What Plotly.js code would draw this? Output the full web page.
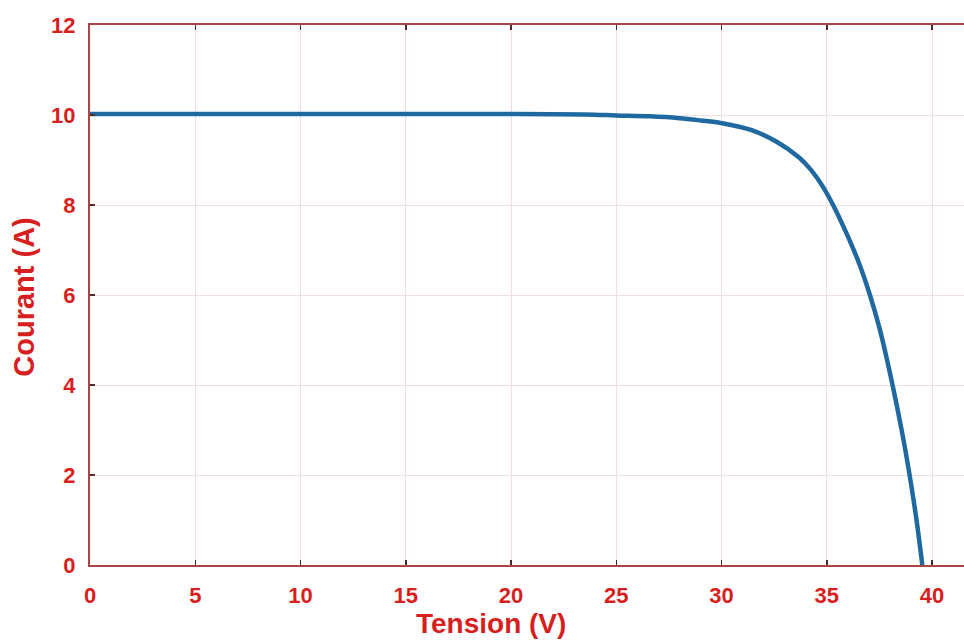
<!DOCTYPE html>
<html>
<head>
<meta charset="utf-8">
<script src="https://cdn.plot.ly/plotly-3.0.1.min.js"></script>
<style>
  html, body { margin: 0; padding: 0; background: #ffffff; }
  #chart { width: 964px; height: 641px; }
</style>
</head>
<body>
<div id="chart"></div>
<script>
// I-V characteristic of the PV module
const tension = [0, 5, 10, 15, 20, 23.5, 25, 26.6, 28, 29, 30, 31.4, 32.6, 33.7, 34.25, 34.8, 35.3, 35.87, 36.53, 37.05, 37.53, 38.08, 38.57, 38.9, 39.24, 39.54];
const courant = [10.02, 10.02, 10.02, 10.02, 10.02, 10.01, 9.99, 9.97, 9.93, 9.88, 9.82, 9.67, 9.41, 9.05, 8.78, 8.42, 8.0, 7.44, 6.71, 6.0, 5.22, 4.1, 2.97, 2.1, 1.08, 0];

const xTicks = [0, 5, 10, 15, 20, 25, 30, 35, 40];
const yTicks = [0, 2, 4, 6, 8, 10, 12];

const red = '#d81f1f';
const frame = '#a94545';
const grid = '#efdfe1';

const axisCommon = {
  showgrid: true,
  gridcolor: grid,
  gridwidth: 1,
  zeroline: false,
  showline: true,
  linecolor: frame,
  linewidth: 2,
  ticks: 'inside',
  ticklen: 5,
  tickwidth: 1.5,
  tickcolor: '#4a2a2a',
  tickfont: { family: 'Liberation Sans, Arial, sans-serif', size: 22, color: red, weight: 'bold' }
};

const trace = {
  x: tension,
  y: courant,
  type: 'scatter',
  mode: 'lines',
  line: { color: '#1f68a0', width: 4.5, shape: 'spline', smoothing: 1 },
  hoverinfo: 'x+y'
};

const layout = {
  width: 964,
  height: 641,
  margin: { l: 90, r: 0, t: 25, b: 76 },
  paper_bgcolor: '#ffffff',
  plot_bgcolor: '#ffffff',
  showlegend: false,
  xaxis: Object.assign({}, axisCommon, {
    range: [0, 41.52],
    tickvals: xTicks,
    ticktext: xTicks.map(String),
    mirror: 'allticks',
    ticklabelstandoff: 10
  }),
  yaxis: Object.assign({}, axisCommon, {
    range: [0, 12],
    tickvals: yTicks,
    ticktext: yTicks.map(String),
    ticklabelstandoff: 8
  }),
  annotations: [
    {
      text: 'Tension (V)',
      xref: 'paper', yref: 'paper',
      x: 0.4588, y: -0.108,
      xanchor: 'center', yanchor: 'middle',
      showarrow: false,
      font: { family: 'Liberation Sans, Arial, sans-serif', size: 28, color: red, weight: 'bold' }
    },
    {
      text: 'Courant (A)',
      xref: 'paper', yref: 'paper',
      x: -0.0755, y: 0.495,
      xanchor: 'center', yanchor: 'middle',
      textangle: -90,
      showarrow: false,
      font: { family: 'Liberation Sans, Arial, sans-serif', size: 29, color: red, weight: 'bold' }
    }
  ]
};

Plotly.newPlot('chart', [trace], layout, { displayModeBar: false, staticPlot: true });
</script>
</body>
</html>
